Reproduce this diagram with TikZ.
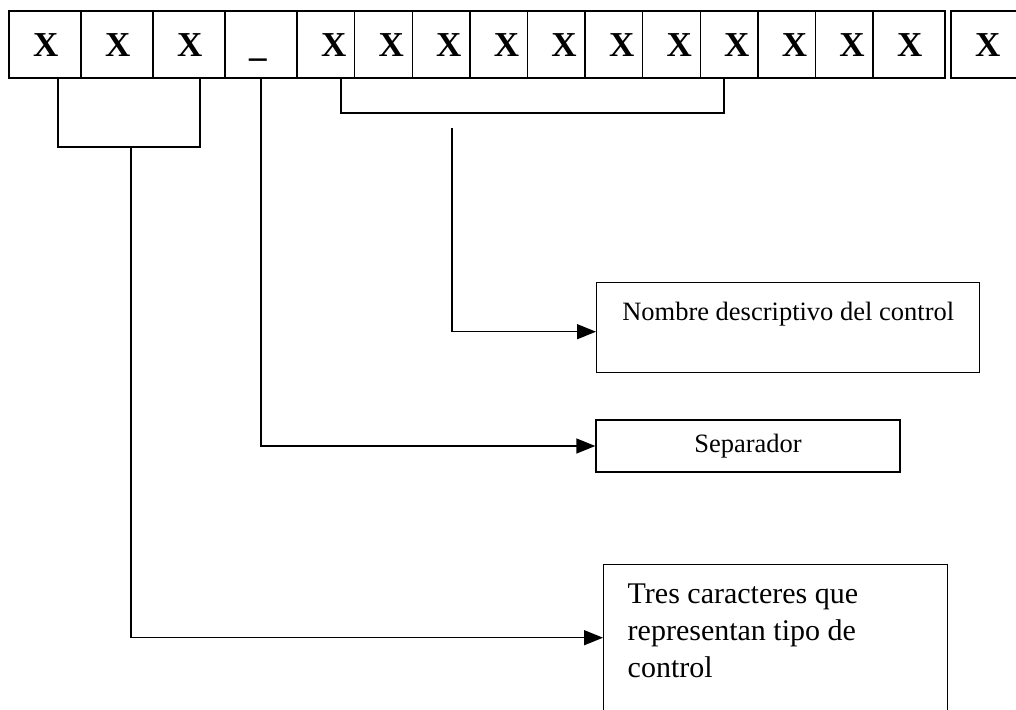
\documentclass[tikz,border=0pt]{standalone}
\usepackage{fontspec}
\setmainfont{Liberation Serif}
\usetikzlibrary{positioning,arrows.meta}

\begin{document}
\begin{tikzpicture}[x=1pt, y=-1pt, line width=1.4pt,
    celda/.style={draw, outer sep=0pt, minimum height=67pt, inner ysep=0pt,
        inner xsep=24pt, text width=#1, align=left, text height=24pt, text depth=0pt,
        font=\bfseries\fontsize{35}{35}\selectfont},
    celda/.default=24pt,
    caja/.style={draw, inner sep=0pt, font=\fontsize{26.5}{30}\selectfont},
    flecha/.style={-{Triangle[length=19pt,width=15pt]}}]
    \useasboundingbox (0,0) rectangle (1016,709);
    \clip (0,0) rectangle (1016,709);

    % Character cells
    \node[celda, anchor=west] (c1) at (9,44.5) {X};
    \node[celda, right=0pt of c1] (c2) {X};
    \node[celda, right=0pt of c2] (c3) {X};
    \node[celda, right=0pt of c3] (c4) {\_};
    \node[celda=9.6pt, right=0pt of c4] (c5) {X};
    \node[celda=9.6pt, right=0pt of c5] (c6) {X};
    \node[celda=9.6pt, right=0pt of c6] (c7) {X};
    \node[celda=9.6pt, right=0pt of c7] (c8) {X};
    \node[celda=9.6pt, right=0pt of c8] (c9) {X};
    \node[celda=9.6pt, right=0pt of c9] (c10) {X};
    \node[celda=9.6pt, right=0pt of c10] (c11) {X};
    \node[celda=9.6pt, right=0pt of c11] (c12) {X};
    \node[celda=9.6pt, right=0pt of c12] (c13) {X};
    \node[celda=9.6pt, right=0pt of c13] (c14) {X};
    \node[celda, right=0pt of c14] (c15) {X};
    \node[celda=31pt, right=6pt of c15] (c16) {X};

    % Description boxes
    \node[caja, anchor=north west, minimum width=383pt, text height=38pt, text depth=52pt]
        (nombre) at (596,282) {Nombre descriptivo del control};
    \node[caja, minimum width=304pt, minimum height=52pt] (sep) at (748,446) {Separador};
    \node[caja, anchor=north west, minimum width=344pt, minimum height=146pt] (tres) at (603,564) {};
    \node[anchor=north west, align=left, inner sep=0pt, font=\fontsize{30}{37}\selectfont]
        (tresTxt) at ([xshift=24pt,yshift=-19pt]tres.north west)
        {Tres caracteres que\\representan tipo de\\control};

    % Bracket under the type characters
    \coordinate (tipoL) at (58,147);
    \coordinate (tipoR) at (200,147);
    \draw (tipoL |- c1.south) -- (tipoL) -- (tipoR) -- (tipoR |- c3.south);

    % Bracket under the name characters
    \coordinate (nomL) at (341,113);
    \coordinate (nomR) at (724,113);
    \draw (nomL |- c5.south) -- (nomL) -- (nomR) -- (nomR |- c12.south);

    % Connectors to the boxes
    \coordinate (tipo) at (131,147);
    \coordinate (nom) at (452,128);
    \draw[flecha] (tipo) |- (tres.west);
    \draw[flecha] (c4.south) |- (sep.west);
    \draw[flecha] (nom) |- ([yshift=-4pt]nombre.west);
\end{tikzpicture}
\end{document}
